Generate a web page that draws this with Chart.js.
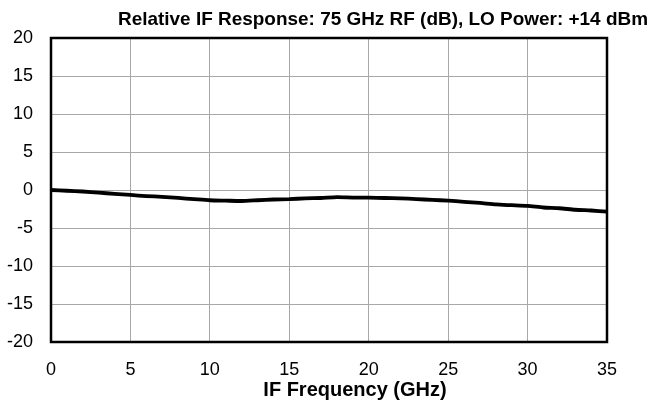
<!DOCTYPE html>
<html>
<head>
<meta charset="utf-8">
<script src="https://cdn.jsdelivr.net/npm/chart.js@4.4.0/dist/chart.umd.min.js"></script>
<style>
  html, body { margin: 0; padding: 0; background: #fff; }
  #wrap { width: 660px; height: 405px; }
</style>
</head>
<body>
<div id="wrap"><canvas id="chart" width="660" height="405"></canvas></div>
<script>
// IF frequency (GHz) and relative response (dB)
const freqGHz = [0, 1, 2, 3, 4, 5, 6, 7, 8, 9, 10, 11, 12, 13, 14, 15, 16, 17, 18,
  19, 20, 21, 22, 23, 24, 25, 26, 27, 28, 29, 30, 31, 32, 33, 34, 35];
const responseDb = [0, -0.1, -0.2, -0.35, -0.5, -0.65, -0.8, -0.9, -1.05, -1.2, -1.35,
  -1.4, -1.45, -1.35, -1.25, -1.2, -1.1, -1.05, -0.95, -1.0, -1.0, -1.05, -1.1, -1.2,
  -1.3, -1.4, -1.55, -1.7, -1.9, -2.0, -2.1, -2.3, -2.4, -2.6, -2.7, -2.85];
const xTicks = [0, 5, 10, 15, 20, 25, 30, 35];
const yTicks = [-20, -15, -10, -5, 0, 5, 10, 15, 20];

const titleText = 'Relative IF Response: 75 GHz RF (dB), LO Power: +14 dBm';
const xTitleText = 'IF Frequency (GHz)';
const fontFamily = '"Liberation Sans", Arial, Helvetica, sans-serif';

// titles: top one right-aligned, axis one a bit right of centre like the original
const titlePlugin = {
  id: 'titles',
  afterDraw(chart) {
    const ctx = chart.ctx;
    ctx.save();
    ctx.font = 'bold 19px ' + fontFamily;
    ctx.fillStyle = '#000';
    ctx.textAlign = 'right';
    ctx.textBaseline = 'middle';
    // squeeze a little to mimic the condensed face
    const w = ctx.measureText(titleText).width;
    ctx.translate(648, 20);
    ctx.scale(Math.min(1, 530 / w), 1);
    ctx.fillText(titleText, 0, 0);
    ctx.restore();

    ctx.save();
    ctx.font = 'bold 20px ' + fontFamily;
    ctx.fillStyle = '#000';
    ctx.textAlign = 'center';
    ctx.textBaseline = 'middle';
    ctx.fillText(xTitleText, 355, 390);
    ctx.restore();
  }
};

// thick black frame round the plot
const framePlugin = {
  id: 'frame',
  afterDatasetsDraw(chart) {
    const a = chart.chartArea;
    const ctx = chart.ctx;
    ctx.save();
    ctx.strokeStyle = '#000';
    ctx.lineWidth = 2.5;
    ctx.strokeRect(a.left, a.top, a.right - a.left, a.bottom - a.top);
    ctx.restore();
  }
};

new Chart(document.getElementById('chart'), {
  type: 'line',
  data: {
    datasets: [{
      data: freqGHz.map((f, i) => ({ x: f, y: responseDb[i] })),
      borderColor: '#000',
      borderWidth: 3.8,
      pointRadius: 0,
      tension: 0.2,
      fill: false
    }]
  },
  options: {
    responsive: false,
    animation: false,
    layout: { padding: { left: 0, right: 53, top: 38, bottom: 0 } },
    plugins: { legend: { display: false }, tooltip: { enabled: false } },
    scales: {
      x: {
        type: 'linear',
        min: 0, max: 35,
        afterBuildTicks: axis => { axis.ticks = xTicks.map(v => ({ value: v })); },
        afterFit: axis => { axis.height = 63; },
        grid: { color: '#a8a8a8', lineWidth: 1, drawTicks: false },
        border: { display: false },
        ticks: { color: '#000', padding: 17, maxRotation: 0, font: { family: fontFamily, size: 18 } }
      },
      y: {
        min: -20, max: 20,
        afterBuildTicks: axis => { axis.ticks = yTicks.map(v => ({ value: v })); },
        afterFit: axis => { axis.width = 51; },
        grid: { color: '#a8a8a8', lineWidth: 1, drawTicks: false },
        border: { display: false },
        ticks: { color: '#000', padding: 18, font: { family: fontFamily, size: 18 } }
      }
    }
  },
  plugins: [titlePlugin, framePlugin]
});
</script>
</body>
</html>
